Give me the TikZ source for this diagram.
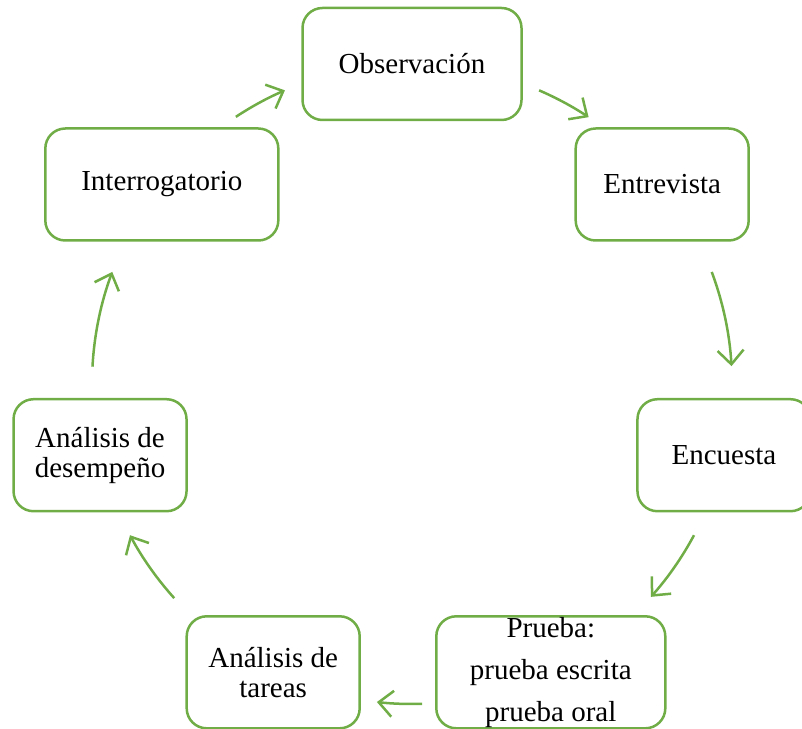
\documentclass[tikz,border=0pt]{standalone}
\usepackage{fontspec}
\setmainfont{Liberation Serif}
\usetikzlibrary{arrows.meta,calc}
\definecolor{grn}{HTML}{70AD47}
\begin{document}
\begin{tikzpicture}[x=1pt,y=1pt,
  box/.style={draw=grn, line width=2.5pt, rounded corners=20pt, minimum height=112pt,
    fill=white, align=center, font=\fontsize{29}{30}\selectfont, inner sep=0pt},
  cyc/.style={draw=grn, line width=2.5pt, -{Straight Barb[length=14pt,width=26pt]}}]
\useasboundingbox (0,0) rectangle (802,728);
\coordinate (C) at (412,344);
\def\R{320}
% nodes
\node[box, minimum width=219pt] (obs) at ($(C)+(90:\R)$) {Observación};
\node[box, minimum width=173pt] (ent) at ($(C)+(38.57:\R)$) {Entrevista};
\node[box, minimum width=173pt] (enc) at ($(C)+(-12.86:\R)$) {Encuesta};
\node[box, minimum width=229pt, font=\fontsize{29}{42}\selectfont] (pru) at ($(C)+(-64.29:\R)$) {Prueba:\\prueba escrita\\prueba oral};
\node[box, minimum width=173pt] (tar) at ($(C)+(-115.71:\R)$) {Análisis de\\tareas};
\node[box, minimum width=173pt] (des) at ($(C)+(-167.14:\R)$) {Análisis de\\desempeño};
\node[box, minimum width=233pt] (int) at ($(C)+(141.43:\R)$) {Interrogatorio};
% arc start points
\coordinate (s1) at ($(C)+(123.4:\R)$);
\coordinate (s2) at ($(C)+(66.6:\R)$);
\coordinate (s3) at ($(C)+(20.5:\R)$);
\coordinate (s4) at ($(C)+(-28.2:\R)$);
\coordinate (s5) at ($(C)+(-88.2:\R)$);
\coordinate (s6) at ($(C)+(-138.0:\R)$);
\coordinate (s7) at ($(C)+(176.9:\R)$);
% connectors (arcs of the cycle)
\draw[cyc] (s1) arc (123.4:113.4:\R);
\draw[cyc] (s2) arc (66.6:56.5:\R);
\draw[cyc] (s3) arc (20.5:3.2:\R);
\draw[cyc] (s4) arc (-28.2:-41.7:\R);
\draw[cyc] (s5) arc (-88.2:-96.3:\R);
\draw[cyc] (s6) arc (-138.0:-151.8:\R);
\draw[cyc] (s7) arc (176.9:159.5:\R);
\end{tikzpicture}
\end{document}
